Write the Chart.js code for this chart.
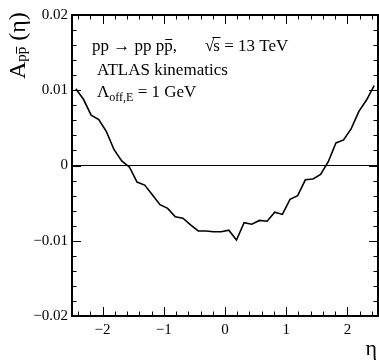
<!DOCTYPE html>
<html>
<head>
<meta charset="utf-8">
<script src="https://cdn.jsdelivr.net/npm/chart.js@4.4.0/dist/chart.umd.min.js"></script>
<style>
  html, body { margin: 0; padding: 0; background: #fff; }
  #wrap { width: 379px; height: 363px; position: relative; }
</style>
</head>
<body>
<div id="wrap"><canvas id="asymChart"></canvas></div>
<script>
// eta bin centres (40 bins over -2.5 .. 2.5)
const etaBins = [
  -2.4375, -2.3125, -2.1875, -2.0625, -1.9375, -1.8125, -1.6875, -1.5625,
  -1.4375, -1.3125, -1.1875, -1.0625, -0.9375, -0.8125, -0.6875, -0.5625,
  -0.4375, -0.3125, -0.1875, -0.0625, 0.0625, 0.1875, 0.3125, 0.4375,
  0.5625, 0.6875, 0.8125, 0.9375, 1.0625, 1.1875, 1.3125, 1.4375,
  1.5625, 1.6875, 1.8125, 1.9375, 2.0625, 2.1875, 2.3125, 2.4375
];
// A_ppbar(eta)
const asymValues = [
  0.0102, 0.0088, 0.0067, 0.0061, 0.0045, 0.0021, 0.0006, -0.0002,
  -0.0022, -0.0026, -0.0039, -0.0052, -0.0057, -0.0068, -0.0070, -0.0079,
  -0.0087, -0.0087, -0.0088, -0.0088, -0.0086, -0.0099, -0.0076, -0.0078,
  -0.0073, -0.0074, -0.0062, -0.0065, -0.0045, -0.0040, -0.0019, -0.0018,
  -0.0012, 0.0005, 0.0030, 0.0034, 0.0049, 0.0072, 0.0087, 0.0106
];
const xTickValues = [-2, -1, 0, 1, 2];
const yTickValues = [-0.02, -0.01, 0, 0.01, 0.02];
const zeroLine = [0, 0];
const xRange = [-2.5, 2.5];
const yRange = [-0.02, 0.02];

const serif = '"Liberation Serif", "Times New Roman", serif';

function fmt(v) {
  if (v === 0) return "0";
  return (v < 0 ? "\u2212" : "") + Math.abs(v);
}

// ROOT-like frame, inward ticks and the text labels
const rootStyle = {
  id: "rootStyle",
  afterDraw(chart) {
    const ctx = chart.ctx;
    const xs = chart.scales.x, ys = chart.scales.y;
    const a = chart.chartArea;
    ctx.save();
    ctx.strokeStyle = "#000";
    ctx.lineWidth = 1;
    ctx.beginPath();
    // x ticks (major every 1, minor every 0.2)
    for (let i = -12; i <= 12; i++) {
      const v = i * 0.2;
      const major = i % 5 === 0;
      const len = major ? 9 : 4.5;
      const px = Math.round(xs.getPixelForValue(v)) + 0.5;
      ctx.moveTo(px, a.bottom); ctx.lineTo(px, a.bottom - len);
      ctx.moveTo(px, a.top); ctx.lineTo(px, a.top + len);
    }
    // y ticks (major every 0.01, minor every 0.002)
    for (let i = -10; i <= 10; i++) {
      const v = i * 0.002;
      const major = i % 5 === 0;
      const len = major ? 9 : 4.5;
      const py = Math.round(ys.getPixelForValue(v)) + 0.5;
      ctx.moveTo(a.left, py); ctx.lineTo(a.left + len, py);
      ctx.moveTo(a.right, py); ctx.lineTo(a.right - len, py);
    }
    ctx.stroke();
    // frame
    ctx.lineWidth = 2;
    ctx.strokeRect(a.left, a.top, a.right - a.left, a.bottom - a.top);

    ctx.fillStyle = "#000";
    ctx.textBaseline = "alphabetic";
    ctx.textAlign = "left";

    // line 1: pp -> pp ppbar,   sqrt(s) = 13 TeV
    ctx.font = "17px " + serif;
    let x = 92, y = 51;
    let t = "pp \u2192 pp p";
    ctx.fillText(t, x, y);
    x += ctx.measureText(t).width;
    const pw = ctx.measureText("p").width;
    ctx.fillText("p", x, y);
    ctx.lineWidth = 1;
    ctx.beginPath();
    ctx.moveTo(x + 1, y - 11.5); ctx.lineTo(x + pw - 0.5, y - 11.5);
    ctx.stroke();
    x += pw;
    ctx.fillText(",", x, y);

    x = 205;
    ctx.fillText("\u221A", x, y);
    x += ctx.measureText("\u221A").width - 1;
    const sw = ctx.measureText("s").width;
    ctx.fillText("s", x, y);
    ctx.beginPath();
    ctx.moveTo(x - 1, y - 13.5); ctx.lineTo(x + sw + 0.5, y - 13.5);
    ctx.stroke();
    x += sw;
    ctx.fillText(" = 13 TeV", x, y);

    // line 2
    ctx.fillText("ATLAS kinematics", 97, 75);

    // line 3: Lambda_{off,E} = 1 GeV
    x = 97; y = 97;
    ctx.fillText("\u039B", x, y);
    x += ctx.measureText("\u039B").width;
    ctx.font = "12px " + serif;
    ctx.fillText("off,E", x, y + 4);
    x += ctx.measureText("off,E").width;
    ctx.font = "17px " + serif;
    ctx.fillText(" = 1 GeV", x, y);

    // y title: A_{ppbar} (eta), rotated
    ctx.save();
    ctx.translate(25, 79);
    ctx.rotate(-Math.PI / 2);
    ctx.font = "24px " + serif;
    let tx = 0;
    ctx.fillText("A", tx, 0);
    tx += ctx.measureText("A").width;
    ctx.font = "15px " + serif;
    const spw = ctx.measureText("p").width;
    ctx.fillText("pp", tx, 1);
    ctx.beginPath();
    ctx.moveTo(tx + spw + 0.5, 1 - 9.5); ctx.lineTo(tx + 2 * spw, 1 - 9.5);
    ctx.stroke();
    tx += 2 * spw;
    ctx.font = "24px " + serif;
    ctx.fillText(" (\u03B7)", tx, 0);
    ctx.restore();

    // x title
    ctx.font = "22px " + serif;
    ctx.textAlign = "right";
    ctx.fillText("\u03B7", 377, 355);
    ctx.restore();
  }
};

new Chart(document.getElementById("asymChart"), {
  type: "line",
  data: {
    datasets: [
      {
        data: etaBins.map((e, i) => ({ x: e, y: asymValues[i] })),
        borderColor: "#000",
        borderWidth: 1.6,
        pointRadius: 0,
        tension: 0,
        fill: false
      },
      {
        data: xRange.map((e, i) => ({ x: e, y: zeroLine[i] })),
        borderColor: "#000",
        borderWidth: 1,
        pointRadius: 0,
        fill: false
      }
    ]
  },
  options: {
    responsive: true,
    maintainAspectRatio: false,
    animation: false,
    layout: { padding: { top: 15, right: 1, left: 0, bottom: 0 } },
    plugins: { legend: { display: false }, tooltip: { enabled: false } },
    scales: {
      x: {
        type: "linear",
        min: xRange[0],
        max: xRange[1],
        grid: { display: false, drawTicks: false },
        border: { display: false },
        afterBuildTicks: (s) => { s.ticks = xTickValues.map((v) => ({ value: v })); },
        afterFit: (s) => { s.height = 47; },
        ticks: {
          padding: 5,
          color: "#000",
          font: { family: serif, size: 15 },
          maxRotation: 0,
          callback: (v) => fmt(v)
        }
      },
      y: {
        type: "linear",
        min: yRange[0],
        max: yRange[1],
        grid: { display: false, drawTicks: false },
        border: { display: false },
        afterBuildTicks: (s) => { s.ticks = yTickValues.map((v) => ({ value: v })); },
        afterFit: (s) => { s.width = 72; },
        ticks: {
          padding: 4,
          color: "#000",
          font: { family: serif, size: 15 },
          callback: (v) => fmt(v)
        }
      }
    }
  },
  plugins: [rootStyle]
});
</script>
</body>
</html>
